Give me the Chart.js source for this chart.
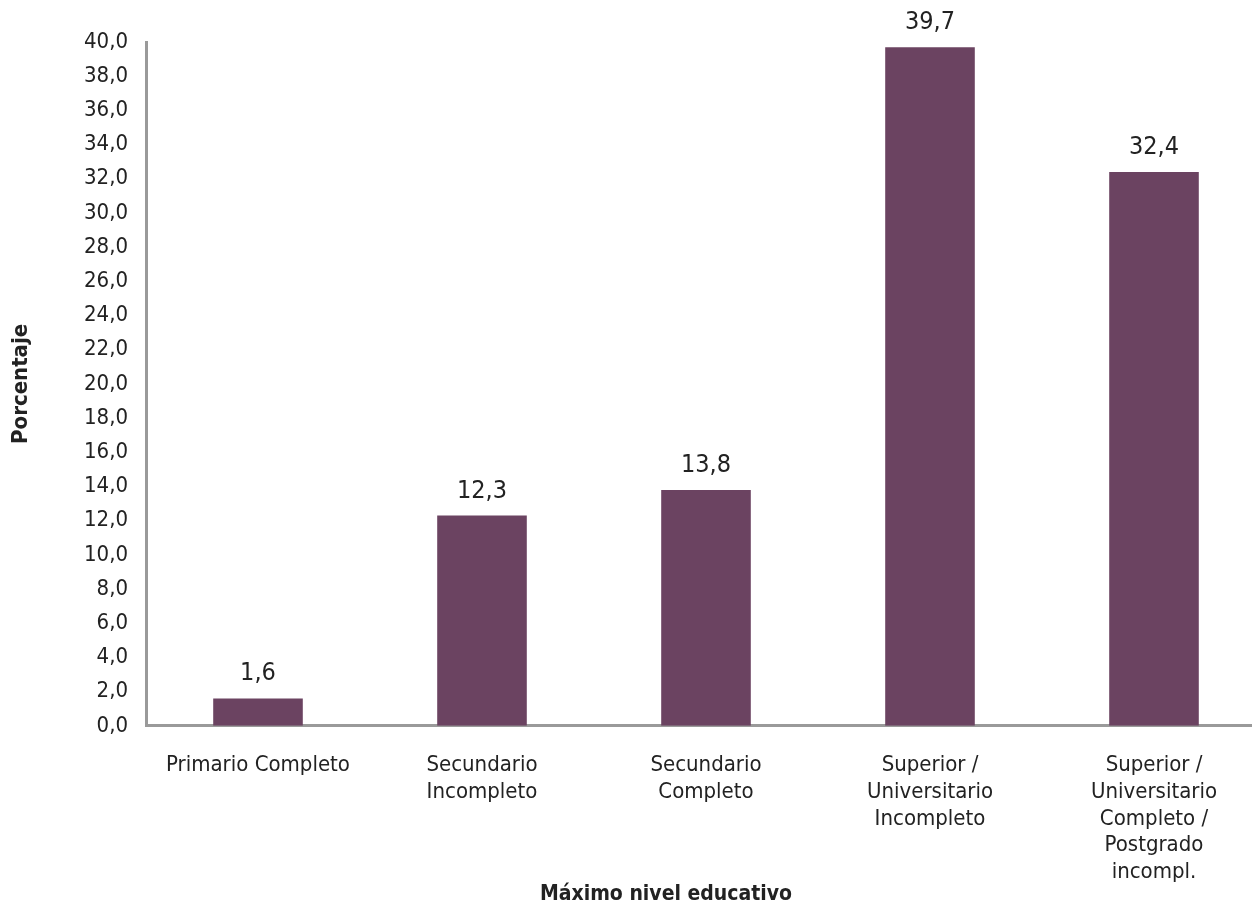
<!DOCTYPE html>
<html>
<head>
<meta charset="utf-8">
<script src="https://cdn.jsdelivr.net/npm/chart.js@4.4.1/dist/chart.umd.min.js"></script>
<style>
  html, body { margin: 0; padding: 0; background: #fff; overflow: hidden; }
  #wrap { width: 1266px; height: 906px; }
</style>
</head>
<body>
<div id="wrap"><canvas id="chart" width="1266" height="906"></canvas></div>
<script>
// data
const categories = [
    ['Primario Completo'],
    ['Secundario', 'Incompleto'],
    ['Secundario', 'Completo'],
    ['Superior /', 'Universitario', 'Incompleto'],
    ['Superior /', 'Universitario', 'Completo /', 'Postgrado', 'incompl.']
];
const porcentajes = [1.6, 12.3, 13.8, 39.7, 32.4];
const yTitle = 'Porcentaje';
const xTitle = 'Máximo nivel educativo';

const FONT = "'DejaVu Sans Condensed', 'DejaVu Sans', sans-serif";
const BAR_COLOR = '#6B4361';
const AXIS_COLOR = '#9a9a9a';

const fmt = (v) => v.toFixed(1).replace('.', ',');

// values above the bars + the x axis title
const labelsPlugin = {
    id: 'barLabels',
    afterDatasetsDraw(chart) {
        const ctx = chart.ctx;
        const meta = chart.getDatasetMeta(0);
        ctx.save();
        ctx.font = '25px ' + FONT;
        ctx.fillStyle = '#222';
        ctx.textAlign = 'center';
        ctx.textBaseline = 'bottom';
        meta.data.forEach((bar, i) => {
            ctx.fillText(fmt(porcentajes[i]), bar.x, bar.y - 12);
        });
        ctx.font = 'bold 21px ' + FONT;
        ctx.textBaseline = 'middle';
        ctx.fillText(xTitle, 666, 895);
        ctx.restore();
    }
};

new Chart(document.getElementById('chart'), {
    type: 'bar',
    data: {
        labels: categories,
        datasets: [{
            data: porcentajes,
            backgroundColor: BAR_COLOR,
            borderWidth: 0,
            barPercentage: 0.4,
            categoryPercentage: 1.0
        }]
    },
    options: {
        responsive: false,
        animation: false,
        layout: { padding: { top: 42, right: 0, bottom: -6, left: 0 } },
        plugins: {
            legend: { display: false },
            tooltip: { enabled: false }
        },
        scales: {
            x: {
                grid: { display: false, drawTicks: false },
                border: { color: AXIS_COLOR, width: 3 },
                ticks: {
                    color: '#222',
                    font: { family: FONT, size: 22, lineHeight: 1.22 },
                    padding: 26,
                    maxRotation: 0,
                    autoSkip: false
                }
            },
            y: {
                min: 0,
                max: 40,
                grid: { display: false, drawTicks: false },
                border: { color: AXIS_COLOR, width: 3 },
                afterFit: (scale) => { scale.width = 146; },
                title: {
                    display: true,
                    text: yTitle,
                    color: '#222',
                    font: { family: FONT, size: 22, weight: 'bold' },
                    padding: { top: 8, bottom: 0 }
                },
                ticks: {
                    stepSize: 2,
                    color: '#222',
                    font: { family: FONT, size: 22 },
                    padding: 18,
                    callback: (v) => fmt(v)
                }
            }
        }
    },
    plugins: [labelsPlugin]
});
</script>
</body>
</html>
